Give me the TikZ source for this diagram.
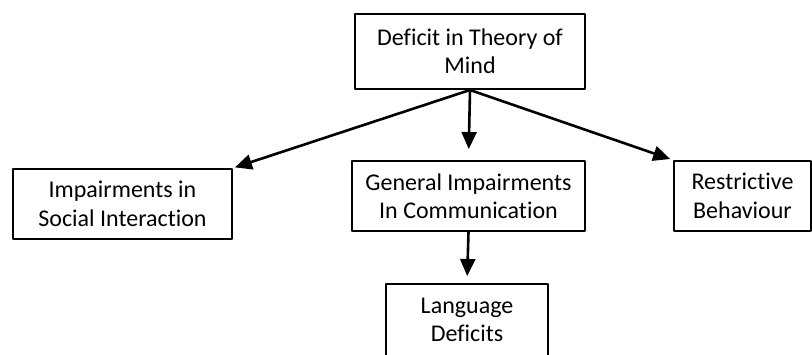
\documentclass[tikz,border=0pt]{standalone}
\usepackage{fontspec}
\setmainfont{Carlito}[Ligatures=NoCommon]
\usetikzlibrary{arrows.meta}

\begin{document}
\begin{tikzpicture}[x=0.5pt, y=-0.5pt, line cap=round, line join=round,
    block/.style={draw, line width=1pt, align=center, inner sep=0pt,
        font=\fontsize{12}{14.2}\selectfont},
    link/.style={line width=1.3pt, -{Triangle[length=8.5pt, width=7.5pt]}}]

                \useasboundingbox (0,0) rectangle (812,354);

                \node[block, minimum width=115pt, minimum height=37.5pt] (theory) at (470, 51.5) {Deficit in Theory of\\Mind};
                \node[block, minimum width=109.5pt, minimum height=35pt] (social) at (122.5, 204) {Impairments in\\Social Interaction};
                \node[block, minimum width=116.5pt, minimum height=35pt] (general) at (468.5, 196) {General Impairments\\In Communication};
                \node[block, minimum width=68.5pt, minimum height=35pt] (restrict) at (742.5, 196) {Restrictive\\Behaviour};
                \node[block, minimum width=81pt, minimum height=36pt] (language) at (467, 320) {Language\\Deficits};

                \draw[link, shorten >=1pt] (theory.south) -- (social.north east);
                \draw[link, shorten >=5.5pt] (theory.south) -- (general.north);
                \draw[link, shorten >=1.5pt] (theory.south) -- (restrict.north west);
                \draw[link, shorten >=3.5pt] (general.south) -- (language.north);

            \end{tikzpicture}
\end{document}
